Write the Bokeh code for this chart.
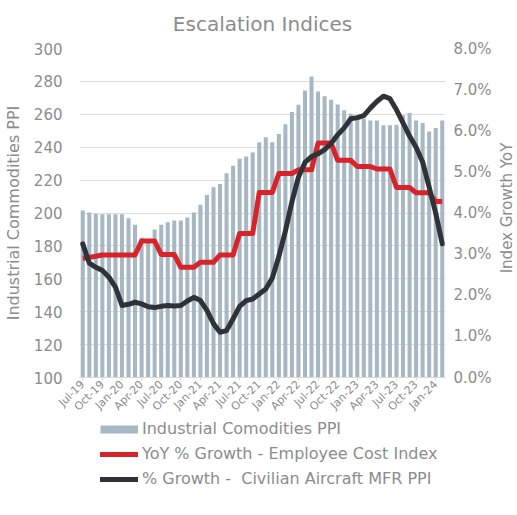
import math
from bokeh.plotting import figure
from bokeh.layouts import row, column
from bokeh.models import (Range1d, LinearAxis, FixedTicker, PrintfTickFormatter,
                          Legend, LegendItem, ColumnDataSource)
from bokeh.embed import file_html
from bokeh.resources import INLINE

months = ["Jul-19", "Aug-19", "Sep-19", "Oct-19", "Nov-19", "Dec-19",
          "Jan-20", "Feb-20", "Mar-20", "Apr-20", "May-20", "Jun-20",
          "Jul-20", "Aug-20", "Sep-20", "Oct-20", "Nov-20", "Dec-20",
          "Jan-21", "Feb-21", "Mar-21", "Apr-21", "May-21", "Jun-21",
          "Jul-21", "Aug-21", "Sep-21", "Oct-21", "Nov-21", "Dec-21",
          "Jan-22", "Feb-22", "Mar-22", "Apr-22", "May-22", "Jun-22",
          "Jul-22", "Aug-22", "Sep-22", "Oct-22", "Nov-22", "Dec-22",
          "Jan-23", "Feb-23", "Mar-23", "Apr-23", "May-23", "Jun-23",
          "Jul-23", "Aug-23", "Sep-23", "Oct-23", "Nov-23", "Dec-23",
          "Jan-24", "Feb-24"]

# Industrial Commodities PPI (left axis)
ppi = [201.5, 200.3, 199.5, 199.3, 199.3, 199.3, 199.3, 196.8, 192.8, 185.0,
       184.0, 190.0, 192.8, 194.4, 195.4, 195.4, 197.2, 200.3, 205.0, 211.0,
       215.7, 217.7, 224.2, 228.7, 233.0, 234.4, 236.8, 243.0, 246.0, 243.0,
       248.0, 254.0, 261.4, 265.8, 274.5, 283.0, 273.9, 270.9, 268.9, 266.0,
       262.4, 260.4, 258.3, 257.3, 256.3, 256.3, 253.3, 253.3, 253.7, 259.4,
       260.8, 256.3, 254.7, 249.6, 251.7, 256.3]

# YoY % Growth - Employee Cost Index (right axis, %)
eci = [2.90, 2.92, 2.95, 2.98, 2.98, 2.98, 2.98, 2.98, 2.98, 3.32,
       3.32, 3.32, 2.99, 2.99, 2.99, 2.68, 2.68, 2.68, 2.80, 2.80,
       2.80, 2.98, 2.98, 2.98, 3.50, 3.50, 3.50, 4.50, 4.50, 4.50,
       4.96, 4.96, 4.96, 5.05, 5.05, 5.05, 5.70, 5.70, 5.70, 5.28,
       5.28, 5.28, 5.13, 5.13, 5.13, 5.07, 5.07, 5.07, 4.62, 4.62,
       4.62, 4.49, 4.49, 4.49, 4.28, 4.28]

# % Growth - Civilian Aircraft MFR PPI (right axis, %)
air = [3.25, 2.78, 2.68, 2.60, 2.44, 2.20, 1.75, 1.78, 1.83, 1.79,
       1.72, 1.70, 1.73, 1.75, 1.74, 1.75, 1.86, 1.95, 1.87, 1.63,
       1.31, 1.10, 1.14, 1.43, 1.73, 1.87, 1.91, 2.03, 2.15, 2.42,
       2.94, 3.56, 4.27, 4.87, 5.23, 5.37, 5.44, 5.54, 5.69, 5.90,
       6.07, 6.29, 6.32, 6.37, 6.55, 6.71, 6.84, 6.78, 6.51, 6.19,
       5.87, 5.60, 5.24, 4.63, 4.00, 3.25]

left_ticks = [100, 120, 140, 160, 180, 200, 220, 240, 260, 280, 300]
right_ticks = [0, 1, 2, 3, 4, 5, 6, 7, 8]

BAR = "#a7b7c4"
RED = "#d9232a"
DARK = "#2f3337"
TXT = "#8c8c8c"
FONT = "DejaVu Sans"

x = list(range(len(months)))
src = ColumnDataSource(dict(x=x, ppi=ppi, eci=eci, air=air))

p = figure(frame_width=366, frame_height=329,
           x_range=Range1d(-0.5, len(months) - 0.5),
           y_range=Range1d(100, 300),
           output_backend="svg", toolbar_location=None,
           min_border_left=0, min_border_right=0,
           min_border_top=0, min_border_bottom=0,
           title="Escalation Indices")
p.extra_y_ranges = {"pct": Range1d(0, 8)}

p.title.align = "center"
p.title.vertical_align = "top"
p.title.text_font_size = "20px"
p.title.text_font = FONT
p.title.text_font_style = "normal"
p.title.text_color = TXT
p.title.standoff = 22

p.outline_line_color = None
p.xgrid.visible = False
p.ygrid.ticker = FixedTicker(ticks=left_ticks)
p.ygrid.grid_line_color = "#dcdcdc"

p.vbar(x="x", top="ppi", bottom=100, width=0.62, source=src,
       fill_color=BAR, line_color=None)
p.line("x", "eci", source=src, y_range_name="pct", line_width=5,
       line_color=RED, line_join="round")
p.line("x", "air", source=src, y_range_name="pct", line_width=5,
       line_color=DARK, line_join="round", line_cap="round")

# left axis
ya = p.yaxis[0]
ya.ticker = FixedTicker(ticks=left_ticks)
ya.axis_label = "Industrial Commodities PPI"
ya.axis_line_color = None
ya.major_tick_line_color = None
ya.minor_tick_line_color = None
ya.major_tick_out = 0
ya.major_label_standoff = 17
ya.axis_label_standoff = 8
ya.major_label_text_font_size = "15px"
ya.major_label_text_color = TXT
ya.major_label_text_font = FONT
ya.axis_label_text_font_size = "16px"
ya.axis_label_text_font_style = "normal"
ya.axis_label_text_color = TXT
ya.axis_label_text_font = FONT

# right axis (ticks only; its title is drawn by a slim companion figure)
ra = LinearAxis(y_range_name="pct", ticker=FixedTicker(ticks=right_ticks),
                formatter=PrintfTickFormatter(format="%.1f%%"))
ra.axis_line_color = None
ra.major_tick_line_color = None
ra.minor_tick_line_color = None
ra.major_tick_out = 0
ra.major_label_standoff = 8
ra.major_label_text_font_size = "15px"
ra.major_label_text_color = TXT
ra.major_label_text_font = FONT
p.add_layout(ra, "right")

# bottom axis
xa = p.xaxis[0]
tick_idx = list(range(0, len(months), 3))
xa.ticker = FixedTicker(ticks=tick_idx)
xa.major_label_overrides = {i: months[i] for i in tick_idx}
xa.major_label_orientation = math.pi / 4
xa.major_label_text_font_size = "11px"
xa.major_label_text_color = TXT
xa.major_label_text_font = FONT
xa.major_label_standoff = 2
xa.axis_line_color = "#d9d9d9"
xa.major_tick_line_color = "#d9d9d9"
xa.major_tick_in = 0
xa.major_tick_out = 3
xa.minor_tick_line_color = None

# slim figure carrying the right-hand axis title (reads bottom-to-top)
lab = figure(width=22, height=410, x_range=Range1d(0, 1), y_range=Range1d(0, 8),
             output_backend="svg", toolbar_location=None,
             min_border_left=21, min_border_right=0,
             min_border_top=48, min_border_bottom=34)
lab.xaxis.visible = False
lab.xgrid.visible = False
lab.ygrid.visible = False
lab.outline_line_color = None
la = lab.yaxis[0]
la.ticker = FixedTicker(ticks=[])
la.axis_line_color = None
la.major_tick_line_color = None
la.minor_tick_line_color = None
la.major_tick_out = 0
la.major_label_standoff = 0
la.axis_label = "Index Growth YoY"
la.axis_label_standoff = 0
la.axis_label_text_font_size = "15px"
la.axis_label_text_font_style = "normal"
la.axis_label_text_color = TXT
la.axis_label_text_font = FONT

# legend strip (legend-only renderers hold a single undefined point)
leg = figure(width=501, height=78, x_range=Range1d(0, 1), y_range=Range1d(0, 1),
             output_backend="svg", toolbar_location=None,
             min_border_left=0, min_border_right=0,
             min_border_top=0, min_border_bottom=0)
leg.xaxis.visible = False
leg.yaxis.visible = False
leg.xgrid.visible = False
leg.ygrid.visible = False
leg.outline_line_color = None
nan = float("nan")
r_bar = leg.line(x=[nan], y=[nan], line_width=8, line_color=BAR)
r_red = leg.line(x=[nan], y=[nan], line_width=5, line_color=RED, line_cap="round")
r_dark = leg.line(x=[nan], y=[nan], line_width=5, line_color=DARK, line_cap="round")

legend = Legend(items=[
    LegendItem(label="Industrial Comodities PPI", renderers=[r_bar]),
    LegendItem(label="YoY % Growth - Employee Cost Index", renderers=[r_red]),
    LegendItem(label="% Growth -  Civilian Aircraft MFR PPI", renderers=[r_dark]),
], location=(100, 10), orientation="vertical", glyph_width=38, glyph_height=18,
    label_height=18, spacing=6, label_standoff=4, padding=0, margin=0,
    label_text_font_size="16px", label_text_color=TXT, label_text_font=FONT,
    border_line_color=None, background_fill_alpha=0)
leg.add_layout(legend, "center")

layout = column(row(p, lab), leg)
open("out.html", "w").write(file_html(layout, INLINE))
